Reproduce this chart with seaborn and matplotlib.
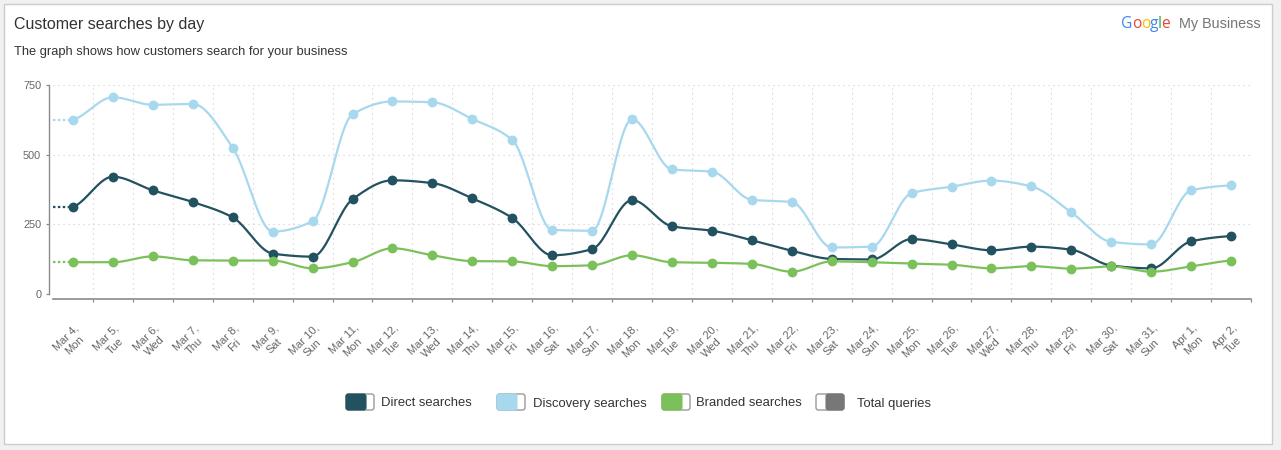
import numpy as np
import pandas as pd
import matplotlib
matplotlib.use("Agg")
import matplotlib.pyplot as plt
import seaborn as sns
from matplotlib.patches import FancyBboxPatch, Rectangle
from matplotlib.transforms import IdentityTransform, ScaledTranslation

# ---------------- data ----------------
dates = ["Mar 4", "Mar 5", "Mar 6", "Mar 7", "Mar 8", "Mar 9", "Mar 10", "Mar 11",
         "Mar 12", "Mar 13", "Mar 14", "Mar 15", "Mar 16", "Mar 17", "Mar 18",
         "Mar 19", "Mar 20", "Mar 21", "Mar 22", "Mar 23", "Mar 24", "Mar 25",
         "Mar 26", "Mar 27", "Mar 28", "Mar 29", "Mar 30", "Mar 31", "Apr 1", "Apr 2"]
weekdays = ["Mon", "Tue", "Wed", "Thu", "Fri", "Sat", "Sun", "Mon", "Tue", "Wed",
            "Thu", "Fri", "Sat", "Sun", "Mon", "Tue", "Wed", "Thu", "Fri", "Sat",
            "Sun", "Mon", "Tue", "Wed", "Thu", "Fri", "Sat", "Sun", "Mon", "Tue"]
direct = [312, 421, 372, 330, 275, 145, 134, 340, 408, 398, 343, 273, 139, 161, 337,
          243, 227, 193, 155, 126, 124, 197, 178, 157, 170, 159, 102, 92, 189, 208]
discovery = [625, 706, 679, 682, 525, 224, 261, 645, 691, 688, 628, 553, 230, 227, 627,
             447, 439, 338, 330, 167, 170, 362, 385, 407, 386, 293, 187, 178, 372, 390]
branded = [114, 114, 135, 121, 120, 120, 92, 114, 164, 139, 118, 117, 100, 103, 139,
           114, 112, 108, 80, 117, 114, 109, 105, 92, 100, 91, 99, 80, 99, 120]
series_names = ["Direct searches", "Discovery searches", "Branded searches", "Total queries"]
yticks = [0, 250, 500, 750]

colors = {"Direct searches": "#22515f", "Discovery searches": "#a7d8ee",
          "Branded searches": "#7bc15a", "Total queries": "#777777"}

# ---------------- helpers ----------------
def pchip(x, y, xs):
    x = np.asarray(x, float); y = np.asarray(y, float)
    h = np.diff(x); delta = np.diff(y) / h
    n = len(x); d = np.zeros(n)
    for k in range(1, n - 1):
        if delta[k - 1] * delta[k] > 0:
            w1 = 2 * h[k] + h[k - 1]; w2 = h[k] + 2 * h[k - 1]
            d[k] = (w1 + w2) / (w1 / delta[k - 1] + w2 / delta[k])
    d[0] = delta[0] * 0.5; d[-1] = delta[-1] * 0.5
    idx = np.clip(np.searchsorted(x, xs) - 1, 0, n - 2)
    t = (xs - x[idx]) / h[idx]
    h00 = 2 * t**3 - 3 * t**2 + 1; h10 = t**3 - 2 * t**2 + t
    h01 = -2 * t**3 + 3 * t**2; h11 = t**3 - t**2
    return h00 * y[idx] + h10 * h[idx] * d[idx] + h01 * y[idx + 1] + h11 * h[idx] * d[idx + 1]

# ---------------- figure ----------------
sns.set_theme(style="white")
plt.rcParams["font.family"] = ["Liberation Sans", "DejaVu Sans"]

W, H = 1281, 450
fig = plt.figure(figsize=(W / 100, H / 100), dpi=100, facecolor="#f1f1f1")
px = IdentityTransform()
fig.add_artist(Rectangle((3.5, 6.5), 1268, 440, transform=px, fc="white",
                         ec="#cccccc", lw=1, zorder=-5))

ax = fig.add_axes([53 / W, 156 / H, 1198 / W, 209 / H])
ax.set_facecolor("none")

x_idx = np.arange(len(dates))
xs = np.linspace(0, len(dates) - 1, 600)
for name, vals in zip(series_names[:3], [direct, discovery, branded]):
    c = colors[name]
    smooth = pchip(x_idx, vals, xs)
    sns.lineplot(x=xs, y=smooth, ax=ax, color=c, lw=1.6, sort=False,
                 estimator=None, zorder=3)
    ax.plot([-0.5, 0], [vals[0], vals[0]], color=c, lw=1.6, dashes=(1.1, 1.1),
            zorder=3, solid_capstyle="butt")
    sns.scatterplot(x=x_idx, y=vals, ax=ax, color=c, s=50, linewidth=0, zorder=4)

ax.set_xlim(-0.5, len(dates) - 0.5)
ax.set_ylim(0, 750)
ax.set_yticks(yticks)
ax.set_yticklabels([str(v) for v in yticks])
ax.set_xticks(np.arange(0.5, len(dates), 1))
ax.set_xticklabels([])
ax.set_xticks(x_idx, minor=True)
ax.set_xticklabels([f"{d},\n{w}" for d, w in zip(dates, weekdays)], minor=True)
ax.set_xlabel(""); ax.set_ylabel("")

ax.grid(True, which="major", axis="both", color="#cccccc", lw=0.8,
        linestyle=(0, (1, 3.5)))
for s in ["top", "right"]:
    ax.spines[s].set_visible(False)
ax.spines["left"].set_position(("outward", 2.9))
ax.spines["bottom"].set_position(("outward", 3.6))
ax.spines["left"].set_color("#8a8a8a")
ax.spines["bottom"].set_color("#8a8a8a")
ax.spines["left"].set_linewidth(1.0)
ax.spines["bottom"].set_linewidth(1.2)

ax.tick_params(axis="y", which="major", length=2.2, width=0.9, color="#8a8a8a",
               labelcolor="#666666", labelsize=7.8, pad=3.4, left=True)
ax.tick_params(axis="x", which="major", length=2.2, width=0.9, color="#8a8a8a",
               bottom=True, labelbottom=False)
ax.tick_params(axis="x", which="minor", length=0, labelsize=8,
               labelcolor="#666666", pad=17, bottom=True)
off = ScaledTranslation(1 / 100, 0, fig.dpi_scale_trans)
for t in ax.get_xticklabels(minor=True):
    t.set_rotation(45)
    t.set_ha("right")
    t.set_va("top")
    t.set_rotation_mode("anchor")
    t.set_multialignment("center")
    t.set_linespacing(1.25)
    t.set_transform(t.get_transform() + off)

# ---------------- titles ----------------
fig.text(14, H - 24, "Customer searches by day", transform=px, fontsize=11.5,
         color="#333333", va="center", ha="left")
fig.text(14, H - 51.5, "The graph shows how customers search for your business",
         transform=px, fontsize=9.3, color="#333333", va="center", ha="left")

renderer = fig.canvas.get_renderer()
gx = 1121
for ch, col in zip("Google", ["#4285F4", "#EA4335", "#FBBC05", "#4285F4", "#34A853", "#EA4335"]):
    t = fig.text(gx, H - 24, ch, transform=px, fontsize=11.2, color=col,
                 va="center", ha="left", family=["Open Sans", "DejaVu Sans"],
                 fontweight="medium")
    gx = t.get_window_extent(renderer).x1 - 0.4
fig.text(1179, H - 24, "My Business", transform=px, fontsize=10.4,
         color="#757575", va="center", ha="left")

# ---------------- legend ----------------
leg_x = [346, 497, 662, 816]
txt_x = [381, 533, 696, 857]
for i, name in enumerate(series_names):
    x0 = leg_x[i]
    c = colors[name]
    fig.add_artist(FancyBboxPatch((x0, 40), 28, 16,
                                  boxstyle="round,pad=0,rounding_size=2.5",
                                  fc="white", ec="#9a9a9a", lw=1, transform=px))
    if name != "Total queries":
        fig.add_artist(FancyBboxPatch((x0, 40), 20, 16,
                                      boxstyle="round,pad=0,rounding_size=2.5",
                                      fc=c, ec=c, lw=0.8, transform=px))
    else:
        fig.add_artist(FancyBboxPatch((x0 + 10, 40), 18, 16,
                                      boxstyle="round,pad=0,rounding_size=2.5",
                                      fc=c, ec=c, lw=0.8, transform=px))
    fig.text(txt_x[i], 43.5, name, transform=px, fontsize=9.4, color="#333333",
             va="baseline", ha="left")

fig.savefig("out.png", dpi=100, facecolor=fig.get_facecolor())
